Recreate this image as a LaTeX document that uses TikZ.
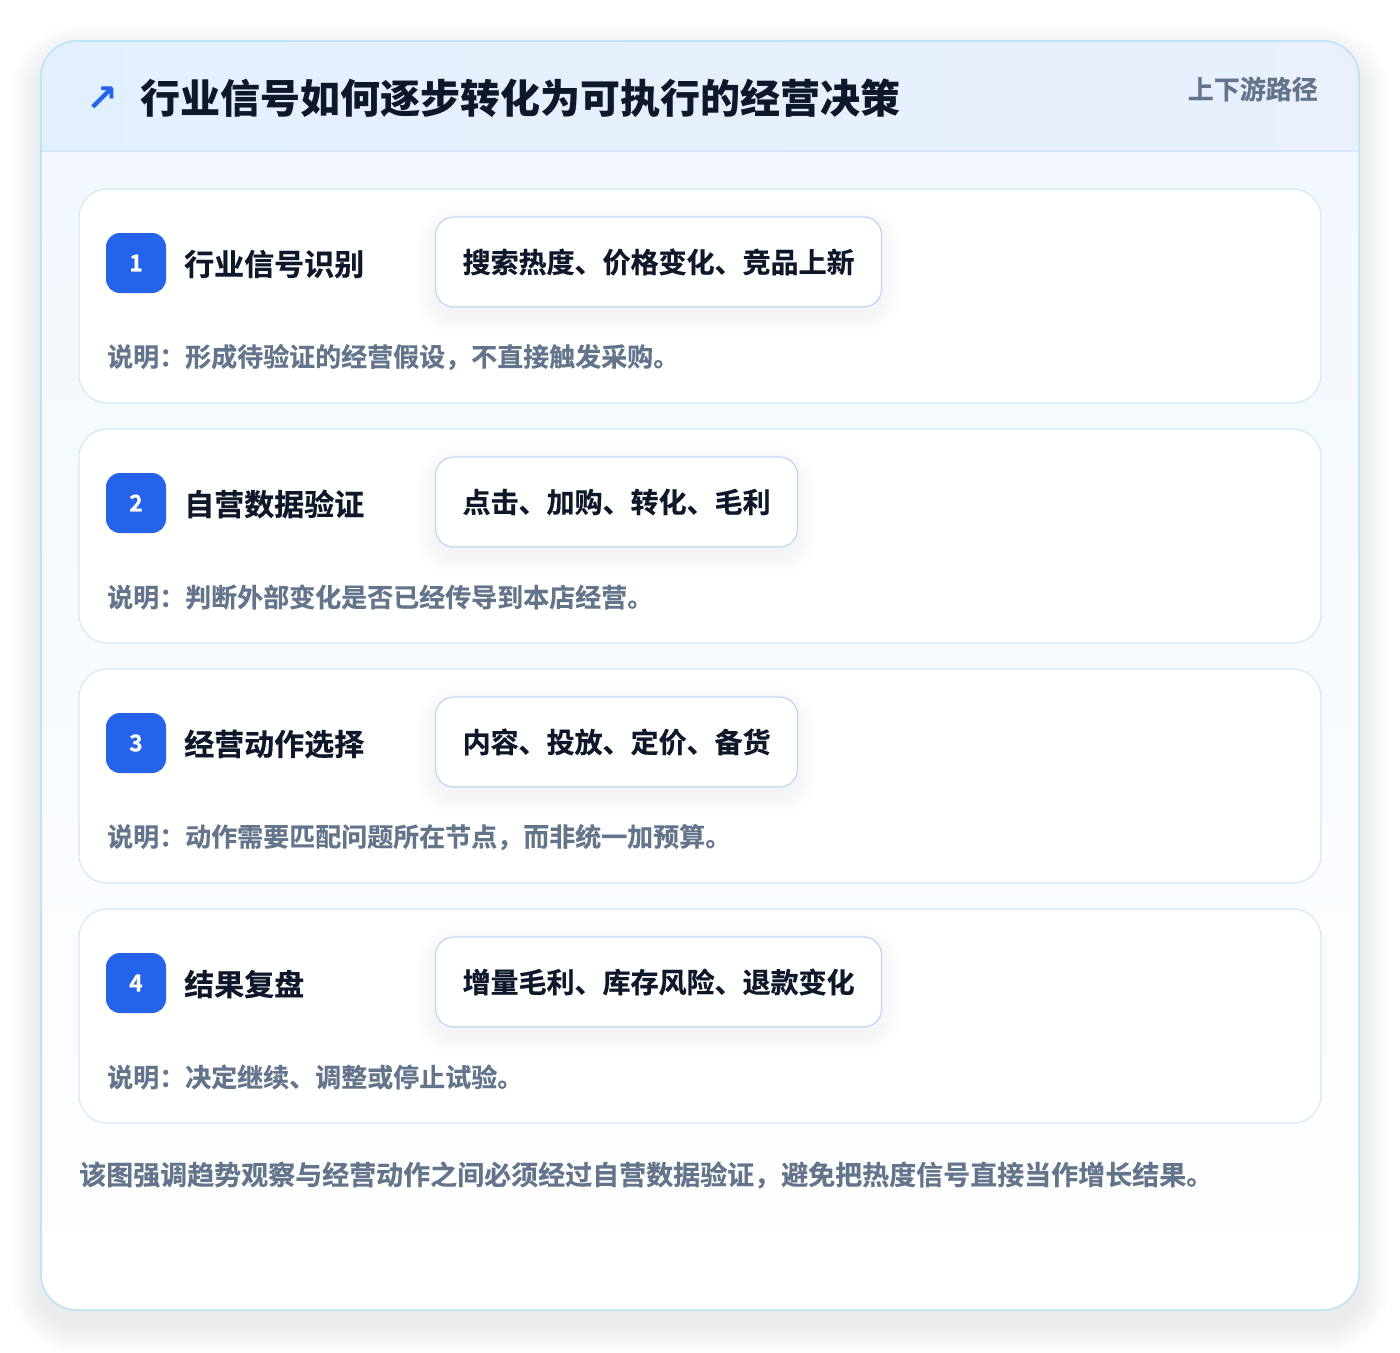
\documentclass[tikz,border=0pt]{standalone}
\usepackage{fontspec}
\setmainfont{Noto Sans CJK SC}[BoldFont={Noto Sans CJK SC Bold}, BoldFeatures={FakeBold=0.5}]
\newfontfamily\blackfont{Noto Sans CJK SC Black}
\newfontfamily\descfont{Noto Sans CJK SC Bold}[FakeBold=0.3]
\newfontfamily\symfont{DejaVu Sans Bold}
\definecolor{cardborder}{HTML}{BEE3F7}
\definecolor{headleft}{HTML}{E2F0FD}
\definecolor{headright}{HTML}{EAF0FD}
\definecolor{headline}{HTML}{D5E7F8}
\definecolor{bodytop}{HTML}{F2F8FE}
\definecolor{stepborder}{HTML}{D6E7F8}
\definecolor{chipborder}{HTML}{BED6F4}
\definecolor{badgeblue}{HTML}{2563EB}
\definecolor{darktext}{HTML}{0F172A}
\definecolor{graytext}{HTML}{64748B}
\definecolor{shadowcol}{HTML}{1E293B}
\newcommand{\fsz}[1]{\fontsize{#1}{#1}\selectfont}
\tikzset{
  outercard/.style={fill=white, draw=cardborder, line width=1.5pt, rounded corners=36pt},
  stepcard/.style={fill=white, draw=stepborder, line width=1.2pt, rounded corners=28pt},
  badge/.style={fill=badgeblue, rounded corners=14pt, minimum width=60pt, minimum height=60pt, inner sep=0pt, text=white, font=\bfseries\fsz{23}},
  steptitle/.style={anchor=west, inner sep=0pt, text=darktext, font=\bfseries\fsz{30}},
  chip/.style={anchor=west, fill=white, draw=chipborder, line width=1.2pt, rounded corners=18pt, minimum height=90pt, inner xsep=27pt, inner ysep=0pt, text=darktext, font=\bfseries\fsz{28}},
  desc/.style={anchor=west, inner sep=0pt, text=graytext, font=\descfont\fsz{26}},
}
\begin{document}
\begin{tikzpicture}[x=1pt,y=-1pt]
\useasboundingbox (0,0) rectangle (1400,1352);
% soft shadow of outer card
\foreach \k in {1,...,12}{
  \fill[shadowcol, opacity=0.007, rounded corners=36pt+2.5pt*\k]
    (41-2.5*\k,41-2.5*\k+14) rectangle (1359+2.5*\k,1310+2.5*\k+14);
}
\path[outercard] (41,41) rectangle (1359,1310);
\begin{scope}
  \clip[rounded corners=36pt] (41,41) rectangle (1359,1310);
  \fill[left color=headleft, right color=headright] (41,41) rectangle (1359,151);
  \fill[top color=bodytop, bottom color=white] (41,151) rectangle (1359,1310);
\end{scope}
\draw[headline, line width=1.5pt] (41,151) -- (1359,151);
\path[outercard, fill=none] (41,41) rectangle (1359,1310);
% header
\node[inner sep=0pt, text=badgeblue, font=\symfont\fsz{38}] (icon) at (102,99) {↗};
\node[anchor=west, inner sep=0pt, text=darktext, font=\blackfont\fsz{40}] (title) at (140,98) {行业信号如何逐步转化为可执行的经营决策};
\node[anchor=east, inner sep=0pt, text=graytext, font=\bfseries\fsz{26}] (tag) at (1318,89) {上下游路径};
% steps
\foreach \i/\t/\c/\d/\w in {
  1/行业信号识别/搜索热度、价格变化、竞品上新/说明：形成待验证的经营假设，不直接触发采购。/446,
  2/自营数据验证/点击、加购、转化、毛利/说明：判断外部变化是否已经传导到本店经营。/362,
  3/经营动作选择/内容、投放、定价、备货/说明：动作需要匹配问题所在节点，而非统一加预算。/362,
  4/结果复盘/增量毛利、库存风险、退款变化/说明：决定继续、调整或停止试验。/446}{
  \pgfmathsetmacro{\yt}{189+240*(\i-1)}
  \path[stepcard] (79,\yt) rectangle (1321,\yt+214);
  \foreach \k in {1,...,10}{
    \fill[shadowcol, opacity=0.005, rounded corners=18pt+2pt*\k]
      (435-2*\k,\yt+28-2*\k+8) rectangle (435+\w+2*\k,\yt+118+2*\k+8);
  }
  \node[badge] (badge\i) at (136,\yt+74) {\i};
  \node[steptitle] (stitle\i) at (184,\yt+75) {\t};
  \node[chip] (chip\i) at (435,\yt+73) {\c};
  \node[desc] (desc\i) at (107,\yt+168) {\d};
}
% footer
\node[anchor=west, inner sep=0pt, text=graytext, font=\descfont\fsz{27}] (footer) at (79,1175) {该图强调趋势观察与经营动作之间必须经过自营数据验证，避免把热度信号直接当作增长结果。};
\end{tikzpicture}
\end{document}
